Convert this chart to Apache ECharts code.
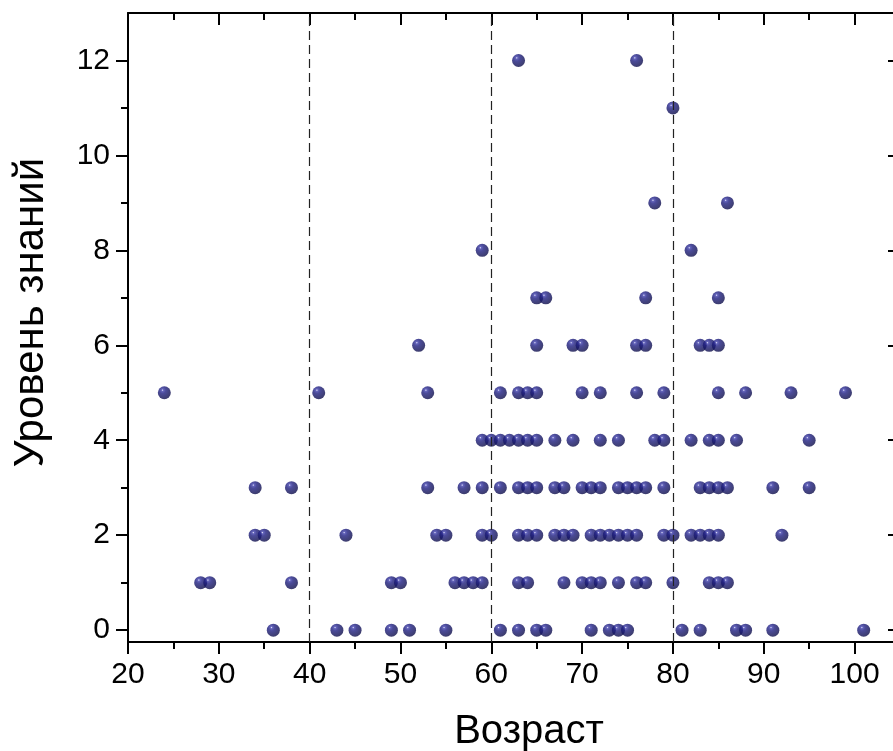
<!DOCTYPE html>
<html><head><meta charset="utf-8">
<script src="https://cdn.jsdelivr.net/npm/echarts@6/dist/echarts.min.js"></script>
<style>html,body{margin:0;padding:0;background:#fff}#c{width:893px;height:751px}</style>
</head><body><div id="c"></div>
<script>
// Ages (Возраст) of respondents for each knowledge level (Уровень знаний)
const level0 = [36, 43, 45, 49, 51, 55, 61, 63, 65, 66, 71, 73, 74, 75, 81, 83, 87, 88, 91, 101];
const level1 = [28, 29, 38, 49, 50, 56, 57, 58, 59, 63, 64, 68, 70, 71, 72, 74, 76, 77, 80, 84, 85, 86];
const level2 = [34, 35, 44, 54, 55, 59, 60, 63, 64, 65, 67, 68, 69, 71, 72, 73, 74, 75, 76, 79, 80, 82, 83, 84, 85, 92];
const level3 = [34, 38, 53, 57, 59, 61, 63, 64, 65, 67, 68, 70, 71, 72, 74, 75, 76, 77, 79, 83, 84, 85, 86, 91, 95];
const level4 = [59, 60, 61, 62, 63, 64, 65, 67, 69, 72, 74, 78, 79, 82, 84, 85, 87, 95];
const level5 = [24, 41, 53, 61, 63, 64, 65, 70, 72, 76, 79, 85, 88, 93, 99];
const level6 = [52, 65, 69, 70, 76, 77, 83, 84, 85];
const level7 = [65, 66, 77, 85];
const level8 = [59, 82];
const level9 = [78, 86];
const level10 = [];
const level11 = [80];
const level12 = [63, 76];
const levelAges = [level0, level1, level2, level3, level4, level5, level6, level7, level8, level9, level10, level11, level12];

const xMajorTicks = [20, 30, 40, 50, 60, 70, 80, 90, 100];
const xMinorTicks = [25, 35, 45, 55, 65, 75, 85, 95];
const yMajorTicks = [0, 2, 4, 6, 8, 10, 12];
const yMinorTicks = [1, 3, 5, 7, 9, 11];
const dividerAges = [40, 60, 80];

const xTitle = 'Возраст';
const yTitle = 'Уровень знаний';

const points = [];
levelAges.forEach((ages, lvl) => ages.forEach(a => points.push([a, lvl])));

const FONT = 'Liberation Sans, Arial, sans-serif';
const lineStyle = { color: '#000', width: 2 };
const X_MIN = 20, X_MAX = 105, Y_MIN = -0.25, Y_MAX = 13;

function xAx(pos, ticks, len, inside, showLine, extra) {
  return Object.assign({
    type: 'value', position: pos, min: X_MIN, max: X_MAX,
    axisLine: { show: showLine, onZero: false, lineStyle },
    axisTick: { show: true, inside, length: len, customValues: ticks, lineStyle },
    axisLabel: { show: false },
    splitLine: { show: false }
  }, extra || {});
}
function yAx(pos, ticks, len, inside, showLine, extra) {
  return Object.assign({
    type: 'value', position: pos, min: Y_MIN, max: Y_MAX,
    axisLine: { show: showLine, onZero: false, lineStyle },
    axisTick: { show: true, inside, length: len, customValues: ticks, lineStyle },
    axisLabel: { show: false },
    splitLine: { show: false }
  }, extra || {});
}

const chart = echarts.init(document.getElementById('c'), null, { renderer: 'canvas' });
chart.setOption({
  animation: false,
  backgroundColor: '#fff',
  grid: { left: 128, top: 13, width: 772, height: 629, containLabel: false, outerBoundsMode: 'none' },
  xAxis: [
    xAx('bottom', xMajorTicks, 12, false, true, {
      axisLabel: { show: true, customValues: xMajorTicks, fontSize: 30, color: '#000', fontFamily: FONT, margin: 18 },
      name: xTitle, nameLocation: 'middle', nameGap: 70,
      nameTextStyle: { fontSize: 40, color: '#000', fontFamily: FONT, padding: [0, 0, 0, 30] }
    }),
    xAx('bottom', xMinorTicks, 7, false, false),
    xAx('top', xMajorTicks, 12, true, true),
    xAx('top', xMinorTicks, 7, true, false)
  ],
  yAxis: [
    yAx('left', yMajorTicks, 12, false, true, {
      axisLabel: { show: true, customValues: yMajorTicks, fontSize: 30, color: '#000', fontFamily: FONT, margin: 18 },
      name: yTitle, nameLocation: 'middle', nameGap: 76,
      nameTextStyle: { fontSize: 42, color: '#000', fontFamily: FONT, padding: [0, 0, 0, 30] }
    }),
    yAx('left', yMinorTicks, 7, false, false),
    yAx('right', yMajorTicks, 12, true, true),
    yAx('right', yMinorTicks, 7, true, false)
  ],
  series: [{
    type: 'scatter',
    xAxisIndex: 0, yAxisIndex: 0,
    data: points,
    symbol: 'circle',
    symbolSize: 13,
    itemStyle: {
      color: {
        type: 'radial', x: 0.36, y: 0.3, r: 0.72,
        colorStops: [
          { offset: 0, color: '#dcdcf8' },
          { offset: 0.12, color: '#3e3eaa' },
          { offset: 0.35, color: '#1e1e80' },
          { offset: 1, color: '#0c0c48' }
        ]
      }
    },
    markLine: {
      silent: true,
      symbol: ['none', 'none'],
      label: { show: false },
      lineStyle: { color: '#222', width: 1.2, type: [9, 5] },
      data: dividerAges.map(v => ({ xAxis: v }))
    },
    z: 3
  }]
});
</script>
</body></html>
